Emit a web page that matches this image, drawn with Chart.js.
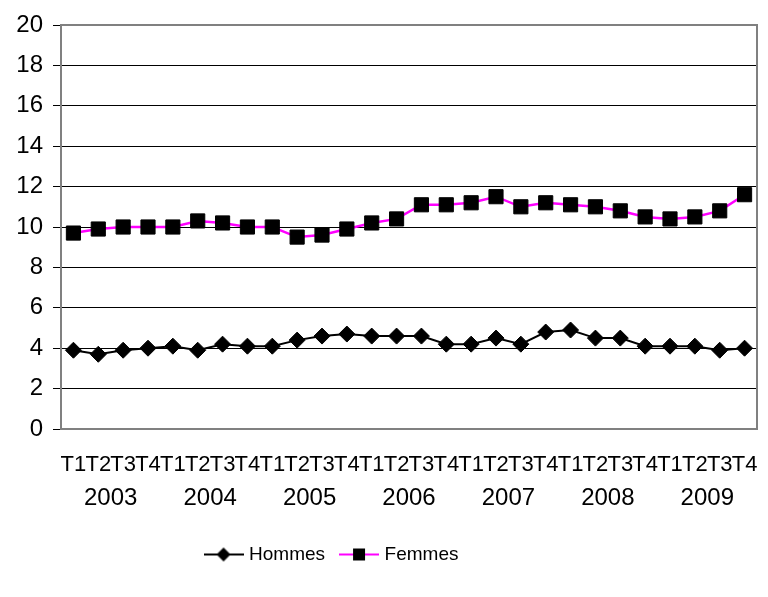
<!DOCTYPE html>
<html>
<head>
<meta charset="utf-8">
<script src="https://cdn.jsdelivr.net/npm/chart.js@4.4.0/dist/chart.umd.min.js"></script>
<style>
  html, body { margin: 0; padding: 0; background: #fff; }
  #wrap { width: 768px; height: 597px; }
</style>
</head>
<body>
<div id="wrap"><canvas id="chart_taux"></canvas></div>
<script>
var years = ['2003', '2004', '2005', '2006', '2007', '2008', '2009'];
var quarters = ['T1', 'T2', 'T3', 'T4'];
var hommes = [3.9, 3.7, 3.9, 4.0, 4.1, 3.9, 4.2, 4.1, 4.1, 4.4, 4.6, 4.7, 4.6, 4.6,
              4.6, 4.2, 4.2, 4.5, 4.2, 4.8, 4.9, 4.5, 4.5, 4.1, 4.1, 4.1, 3.9, 4.0];
var femmes = [9.7, 9.9, 10.0, 10.0, 10.0, 10.3, 10.2, 10.0, 10.0, 9.5, 9.6, 9.9, 10.2, 10.4,
              11.1, 11.1, 11.2, 11.5, 11.0, 11.2, 11.1, 11.0, 10.8, 10.5, 10.4, 10.5, 10.8, 11.6];

var labels = [];
years.forEach(function () {
    quarters.forEach(function (q) { labels.push(q); });
});

var font = "'Liberation Sans', Arial, sans-serif";

// legend swatch: short line with the marker in the middle
function swatch(color, shape) {
    var c = document.createElement('canvas');
    c.width = 40; c.height = 20;
    var g = c.getContext('2d');
    g.strokeStyle = color;
    g.lineWidth = 2;
    g.beginPath(); g.moveTo(0, 10); g.lineTo(40, 10); g.stroke();
    g.fillStyle = '#000';
    g.beginPath();
    if (shape === 'diamond') {
        g.moveTo(20, 3); g.lineTo(27, 10); g.lineTo(20, 17); g.lineTo(13, 10);
    } else {
        g.rect(14, 4, 12, 12);
    }
    g.closePath(); g.fill();
    return c;
}
var swatches = [swatch('#000000', 'diamond'), swatch('#ff00ff', 'square')];

// grey frame round the plot area, legend pulled a bit to the left
var plotFrame = {
    id: 'plotFrame',
    afterLayout: function (chart) {
        chart.legend.left -= 48;
        chart.legend.right -= 48;
    },
    beforeDatasetsDraw: function (chart) {
        var a = chart.chartArea, ctx = chart.ctx;
        ctx.save();
        ctx.strokeStyle = '#808080';
        ctx.lineWidth = 2;
        ctx.strokeRect(a.left, a.top, a.right - a.left, a.bottom - a.top);
        ctx.restore();
    }
};

// the quarter labels may run to the frame edge
function noSidePadding(scale) {
    scale.paddingLeft = 0;
    scale.paddingRight = 0;
}

var ctx = document.getElementById('chart_taux').getContext('2d');
var lineChart = new Chart(ctx, {
    type: 'line',
    data: {
        labels: labels,
        datasets: [
            {
                label: 'Hommes',
                data: hommes,
                borderColor: '#000000',
                borderWidth: 2,
                pointStyle: 'rectRot',
                pointRadius: 8,
                pointBackgroundColor: '#000000',
                pointBorderColor: '#000000',
                pointBorderWidth: 1,
                tension: 0
            },
            {
                label: 'Femmes',
                data: femmes,
                borderColor: '#ff00ff',
                borderWidth: 2.5,
                pointStyle: 'rect',
                pointRadius: 10,
                pointBackgroundColor: '#000000',
                pointBorderColor: '#000000',
                pointBorderWidth: 1,
                tension: 0
            }
        ]
    },
    options: {
        responsive: true,
        maintainAspectRatio: false,
        animation: false,
        layout: { padding: { top: 25, right: 6, left: 0, bottom: 23 } },
        scales: {
            y: {
                min: 0,
                max: 20,
                ticks: { stepSize: 2, padding: 10, color: '#000', font: { family: font, size: 24 } },
                grid: { color: '#000', lineWidth: 1, tickLength: 8, tickColor: '#000' },
                border: { display: false },
                afterFit: function (scale) { scale.width = 61; }
            },
            x: {
                weight: 0,
                offset: true,
                ticks: { autoSkip: false, maxRotation: 0, minRotation: 0, padding: 23,
                         color: '#000', font: { family: font, size: 22 } },
                grid: { display: false, drawTicks: false },
                border: { display: false },
                afterFit: function (scale) { scale.height = 55; noSidePadding(scale); }
            },
            x2: {
                type: 'category',
                position: 'bottom',
                weight: 1,
                labels: years,
                offset: true,
                ticks: { maxRotation: 0, minRotation: 0, padding: 0,
                         color: '#000', font: { family: font, size: 24 } },
                grid: { display: false, drawTicks: false },
                border: { display: false },
                afterFit: function (scale) { scale.height = 43; noSidePadding(scale); }
            }
        },
        plugins: {
            legend: {
                position: 'bottom',
                labels: {
                    usePointStyle: true,
                    pointStyleWidth: 32,
                    padding: 18,
                    color: '#000',
                    font: { family: font, size: 19 },
                    generateLabels: function (chart) {
                        return chart.data.datasets.map(function (ds, i) {
                            return {
                                text: ds.label,
                                pointStyle: swatches[i],
                                fillStyle: 'transparent',
                                strokeStyle: 'transparent',
                                lineWidth: 0,
                                fontColor: '#000',
                                datasetIndex: i
                            };
                        });
                    }
                }
            },
            tooltip: { enabled: false }
        }
    },
    plugins: [plotFrame]
});
</script>
</body>
</html>
